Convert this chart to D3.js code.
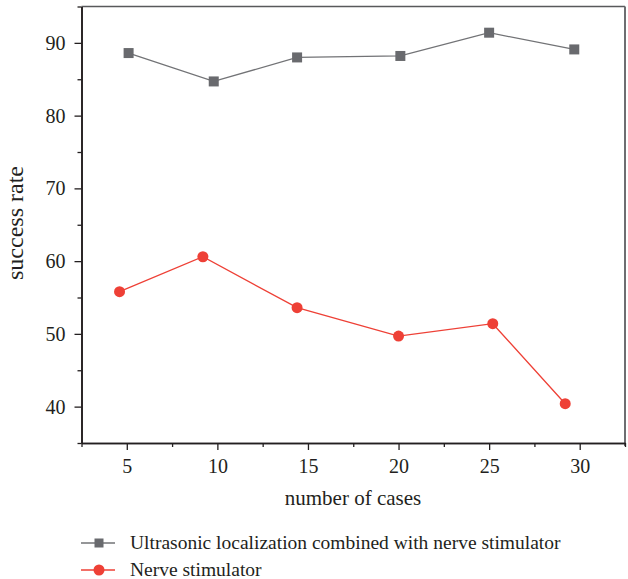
<!DOCTYPE html>
<html>
<head>
<meta charset="utf-8">
<script src="https://cdn.jsdelivr.net/npm/d3@7"></script>
<style>
  html, body { margin: 0; padding: 0; background: #fff; }
  text { font-family: "Liberation Serif", serif; }
</style>
</head>
<body>
<svg id="chart" width="628" height="579" font-family="Liberation Serif"></svg>
<script>
// ---- data ----
const seriesNames = ["Ultrasonic localization combined with nerve stimulator", "Nerve stimulator"];
const ultrasonicX = [5.1, 9.8, 14.4, 20.1, 25.0, 29.7];
const ultrasonicY = [88.6, 84.7, 88.0, 88.2, 91.4, 89.1];
const nerveX = [4.6, 9.2, 14.4, 20.0, 25.2, 29.2];
const nerveY = [55.8, 60.6, 53.6, 49.7, 51.4, 40.4];
const xTicks = [5, 10, 15, 20, 25, 30];
const xMinorTicks = [2.5, 7.5, 12.5, 17.5, 22.5, 27.5, 32.5];
const yTicks = [40, 50, 60, 70, 80, 90];
const yMinorTicks = [35, 45, 55, 65, 75, 85, 95];
const xTitle = "number of cases";
const yTitle = "success rate";

const FONT = '"Liberation Serif", serif';
const textColor = "#231f20";
const grayColor = "#696a6e";
const grayLine = "#727376";
const redColor = "#ee4036";

const svg = d3.select("#chart");
const margin = { left: 81.5, top: 6.5, right: 3, bottom: 136 };
const W = 628, H = 579;
const x = d3.scaleLinear().domain([2.5, 32.5]).range([margin.left, W - margin.right]);
const y = d3.scaleLinear().domain([35, 95]).range([H - margin.bottom, margin.top]);

function setFont(sel, size) {
  sel.attr("font-family", "Liberation Serif").style("font-family", FONT).style("font-size", size + "px").attr("fill", textColor);
  return sel;
}

// frame (top and right)
svg.append("line").attr("x1", x(2.5)).attr("x2", x(32.5)).attr("y1", y(95)).attr("y2", y(95))
  .attr("stroke", "#58595b").attr("stroke-width", 1.6);
svg.append("line").attr("x1", x(32.5)).attr("x2", x(32.5)).attr("y1", y(95)).attr("y2", y(35) + 3)
  .attr("stroke", "#6d6e71").attr("stroke-width", 2);

// axes
const tickFont = 20;
const xAxis = svg.append("g").attr("transform", `translate(0,${y(35)})`)
  .call(d3.axisBottom(x).tickValues(xTicks).tickSize(7).tickSizeOuter(0).tickPadding(9).tickFormat(d3.format("d")));
const xMinor = svg.append("g").attr("transform", `translate(0,${y(35)})`)
  .call(d3.axisBottom(x).tickValues(xMinorTicks).tickSize(4).tickSizeOuter(0).tickFormat(""));
const yAxis = svg.append("g").attr("transform", `translate(${x(2.5)},0)`)
  .call(d3.axisLeft(y).tickValues(yTicks).tickSize(7).tickSizeOuter(0).tickPadding(9).tickFormat(d3.format("d")));
const yMinor = svg.append("g").attr("transform", `translate(${x(2.5)},0)`)
  .call(d3.axisLeft(y).tickValues(yMinorTicks).tickSize(4).tickSizeOuter(0).tickFormat(""));

[xAxis, xMinor, yAxis, yMinor].forEach(g => {
  g.attr("font-family", "Liberation Serif");
  g.select(".domain").attr("stroke", textColor).attr("stroke-width", 1.6);
  g.selectAll(".tick line").attr("stroke", textColor).attr("stroke-width", 1.3);
  setFont(g.selectAll("text"), tickFont);
});

// axis titles
setFont(svg.append("text").attr("x", 353).attr("y", 505).attr("text-anchor", "middle").text(xTitle), 21);
setFont(svg.append("text").attr("transform", `translate(23,223) rotate(-90)`).attr("text-anchor", "middle").text(yTitle), 24);

// series
const ultra = ultrasonicX.map((v, i) => [v, ultrasonicY[i]]);
const nerve = nerveX.map((v, i) => [v, nerveY[i]]);
const line = d3.line().x(d => x(d[0])).y(d => y(d[1]));

svg.append("path").datum(ultra).attr("d", line).attr("fill", "none").attr("stroke", grayLine).attr("stroke-width", 1.3);
svg.append("path").datum(nerve).attr("d", line).attr("fill", "none").attr("stroke", redColor).attr("stroke-width", 1.3);

const sq = 10;
svg.selectAll("rect.ultra").data(ultra).enter().append("rect").attr("class", "ultra")
  .attr("x", d => x(d[0]) - sq / 2).attr("y", d => y(d[1]) - sq / 2)
  .attr("width", sq).attr("height", sq).attr("fill", grayColor);
svg.selectAll("circle.nerve").data(nerve).enter().append("circle").attr("class", "nerve")
  .attr("cx", d => x(d[0])).attr("cy", d => y(d[1])).attr("r", 5.5).attr("fill", redColor);

// legend
const legendY = [543, 570];
const legend = svg.append("g");
seriesNames.forEach((name, i) => {
  const g = legend.append("g").attr("transform", `translate(0,${legendY[i]})`);
  g.append("line").attr("x1", 81).attr("x2", 115).attr("y1", 0).attr("y2", 0)
    .attr("stroke", i === 0 ? grayLine : redColor).attr("stroke-width", 1.3);
  if (i === 0) {
    g.append("rect").attr("x", 99 - 4.5).attr("y", -4.5).attr("width", 9).attr("height", 9).attr("fill", grayColor);
  } else {
    g.append("circle").attr("cx", 99).attr("cy", 0).attr("r", 5.5).attr("fill", redColor);
  }
  setFont(g.append("text").attr("x", 130).attr("y", 6).text(name), 19.5);
});
</script>
</body>
</html>
